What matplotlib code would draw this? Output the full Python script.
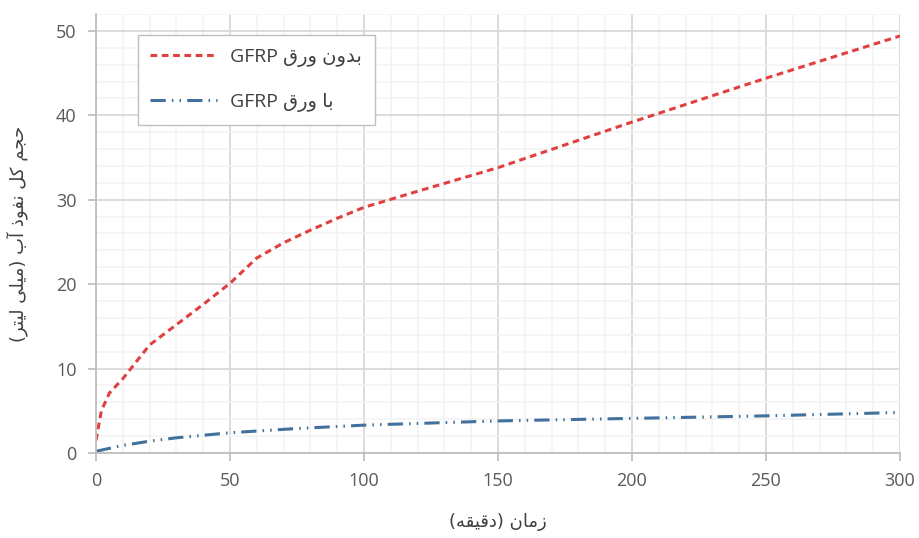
import numpy as np
import matplotlib.pyplot as plt
from matplotlib.ticker import MultipleLocator

plt.rcParams['font.family'] = ['Open Sans', 'DejaVu Sans']

# data
zaman_bedun = [0, 2, 5, 10, 20, 30, 40, 50, 60, 70, 80, 90, 100, 120, 150, 200, 250, 300]
hajm_bedun = [1.5, 5.0, 7.1, 8.8, 12.8, 15.2, 17.6, 20.1, 23.1, 24.9, 26.4, 27.8, 29.1, 31.0, 33.8, 39.2, 44.4, 49.4]
zaman_ba = [0, 10, 20, 30, 50, 75, 100, 150, 200, 250, 300]
hajm_ba = [0.2, 0.9, 1.4, 1.8, 2.4, 2.9, 3.3, 3.8, 4.1, 4.4, 4.8]

label_bedun = "بدون ورق"
label_ba = "با ورق"
xlabel_txt = "زمان (دقیقه)"
ylabel_txt = "حجم کل نفوذ آب (میلی لیتر)"

# simple arabic/persian shaping: (isolated, final, initial, medial)
FORMS = {
    'ا': (0xFE8D, 0xFE8E, None, None),
    'آ': (0xFE81, 0xFE82, None, None),
    'ب': (0xFE8F, 0xFE90, 0xFE91, 0xFE92),
    'ت': (0xFE95, 0xFE96, 0xFE97, 0xFE98),
    'ج': (0xFE9D, 0xFE9E, 0xFE9F, 0xFEA0),
    'ح': (0xFEA1, 0xFEA2, 0xFEA3, 0xFEA4),
    'د': (0xFEA9, 0xFEAA, None, None),
    'ذ': (0xFEAB, 0xFEAC, None, None),
    'ر': (0xFEAD, 0xFEAE, None, None),
    'ز': (0xFEAF, 0xFEB0, None, None),
    'ف': (0xFED1, 0xFED2, 0xFED3, 0xFED4),
    'ق': (0xFED5, 0xFED6, 0xFED7, 0xFED8),
    'ک': (0xFB8E, 0xFB8F, 0xFB90, 0xFB91),
    'ل': (0xFEDD, 0xFEDE, 0xFEDF, 0xFEE0),
    'م': (0xFEE1, 0xFEE2, 0xFEE3, 0xFEE4),
    'ن': (0xFEE5, 0xFEE6, 0xFEE7, 0xFEE8),
    'ه': (0xFEE9, 0xFEEA, 0xFEEB, 0xFEEC),
    'و': (0xFEED, 0xFEEE, None, None),
    'ی': (0xFBFC, 0xFBFD, 0xFBFE, 0xFBFF),
}
MIRROR = {'(': ')', ')': '('}

def farsi(s):
    out = []
    for i, c in enumerate(s):
        if c not in FORMS:
            out.append(MIRROR.get(c, c))
            continue
        prev = s[i - 1] if i > 0 else ''
        nxt = s[i + 1] if i + 1 < len(s) else ''
        jp = prev in FORMS and FORMS[prev][2] is not None
        jn = FORMS[c][2] is not None and nxt in FORMS
        f = FORMS[c]
        if jp and jn:
            code = f[3]
        elif jp:
            code = f[1]
        elif jn:
            code = f[2]
        else:
            code = f[0]
        out.append(chr(code))
    return ''.join(reversed(out))

fig = plt.figure(figsize=(9.2, 5.38), dpi=100)
ax = fig.add_axes([96/920, 85/538, 804/920, 439/538])

ax.plot(zaman_bedun, hajm_bedun, color='#e0403f', lw=2.2, ls=(0, (2.2, 1.5)),
        label='GFRP ' + farsi(label_bedun))
ax.plot(zaman_ba, hajm_ba, color='#41719c', lw=2.2, ls=(0, (5, 2, 0.5, 2, 0.5, 2)),
        label='GFRP ' + farsi(label_ba))

ax.set_xlim(0, 300)
ax.set_ylim(0, 52)
ax.xaxis.set_major_locator(MultipleLocator(50))
ax.xaxis.set_minor_locator(MultipleLocator(10))
ax.yaxis.set_major_locator(MultipleLocator(10))
ax.yaxis.set_minor_locator(MultipleLocator(2))
ax.grid(which='major', color='#d9d9d9', lw=1.3)
ax.grid(which='minor', color='#f2f2f2', lw=1.1)
ax.set_axisbelow(True)
for s in ['top', 'right']:
    ax.spines[s].set_visible(False)
for s in ['left', 'bottom']:
    ax.spines[s].set_color('#bfbfbf')
    ax.spines[s].set_linewidth(1.3)
ax.tick_params(which='major', length=6, width=1.3, color='#bfbfbf',
               labelsize=13, labelcolor='#595959', pad=8)
ax.tick_params(which='minor', length=0)

ax.set_xlabel(farsi(xlabel_txt), fontsize=13, color='#404040', labelpad=16,
              family=['DejaVu Sans'])
ax.set_ylabel(farsi(ylabel_txt), fontsize=13, color='#404040', labelpad=20,
              family=['DejaVu Sans'])

leg = ax.legend(loc='upper left', bbox_to_anchor=(0.052, 0.952), borderaxespad=0,
                handlelength=3.4, handletextpad=0.7, labelspacing=1.35,
                borderpad=0.65, fancybox=False, framealpha=1, edgecolor='#bfbfbf',
                prop={'family': ['Open Sans', 'DejaVu Sans'], 'size': 14})
for t in leg.get_texts():
    t.set_color('#404040')

fig.savefig('out.png', dpi=100)
